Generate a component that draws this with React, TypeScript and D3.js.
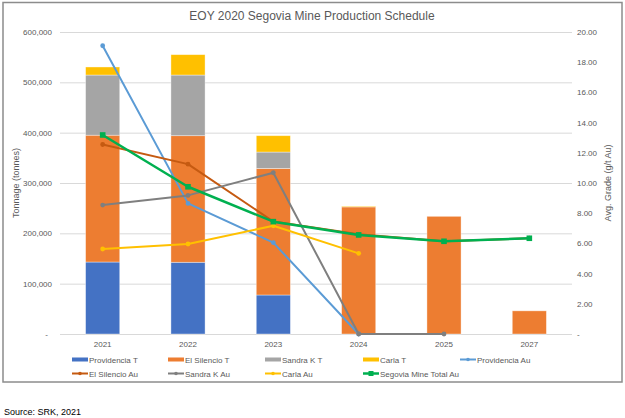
import { useEffect, useRef } from 'react';
import * as d3 from 'd3';

// ── Data ──

const YEARS = ['2021', '2022', '2023', '2024', '2025', '2027'];

const PROVIDENCIA_T = [143000, 142500, 77500, 0, 0, 0];
const EL_SILENCIO_T = [252000, 251500, 251500, 252500, 233800, 46000];
const SANDRA_K_T = [119500, 120500, 32500, 0, 0, 0];
const CARLA_T = [16000, 40500, 32500, 1500, 0, 0];

const PROVIDENCIA_AU = [19.09, 8.65, 6.05, 0, null, null];
const EL_SILENCIO_AU = [12.55, 11.25, 7.45, 6.6, 6.14, 6.34];
const SANDRA_K_AU = [8.54, 9.18, 10.68, 0, 0, null];
const CARLA_AU = [5.63, 5.96, 7.17, 5.34, null, null];
const TOTAL_AU = [13.18, 9.75, 7.44, 6.56, 6.14, 6.34];

const LEFT_TICKS = [0, 100000, 200000, 300000, 400000, 500000, 600000];
const RIGHT_TICKS = [0, 2, 4, 6, 8, 10, 12, 14, 16, 18, 20];

// ── Styling ──

const FONT = '"Liberation Sans", Arial, sans-serif';
const TEXT = '#595959';
const GRID = '#d9d9d9';

const W = 625;
const H = 418;
const M = { left: 60, right: 53, top: 32, bottom: 84 };

type BarSeries = { name: string; values: number[]; color: string };
type LineSeries = {
  name: string;
  values: (number | null)[];
  color: string;
  square?: boolean;
  width: number;
};

const BARS: BarSeries[] = [
  { name: 'Providencia T', values: PROVIDENCIA_T, color: '#4472c4' },
  { name: 'El Silencio T', values: EL_SILENCIO_T, color: '#ed7d31' },
  { name: 'Sandra K T', values: SANDRA_K_T, color: '#a5a5a5' },
  { name: 'Carla T', values: CARLA_T, color: '#ffc000' },
];

const LINES: LineSeries[] = [
  { name: 'Providencia Au', values: PROVIDENCIA_AU, color: '#5b9bd5', width: 2 },
  { name: 'El Silencio Au', values: EL_SILENCIO_AU, color: '#c55a11', width: 2 },
  { name: 'Sandra K Au', values: SANDRA_K_AU, color: '#7f7f7f', width: 2 },
  { name: 'Carla Au', values: CARLA_AU, color: '#ffc000', width: 2 },
  { name: 'Segovia Mine Total Au', values: TOTAL_AU, color: '#00b050', square: true, width: 2.5 },
];

export default function App() {
  const svgRef = useRef<SVGSVGElement>(null);

  useEffect(() => {
    const svgEl = svgRef.current;
    if (!svgEl) return;
    const svg = d3.select(svgEl);
    svg.selectAll('*').remove();

    const x = d3
      .scaleBand<string>()
      .domain(YEARS)
      .range([M.left, W - M.right])
      .padding(0);
    const yL = d3.scaleLinear().domain([0, 600000]).range([H - M.bottom, M.top]);
    const yR = d3.scaleLinear().domain([0, 20]).range([H - M.bottom, M.top]);
    const barW = x.bandwidth() * 0.4;
    const cx = (yr: string) => x(yr)! + x.bandwidth() / 2;
    const midY = (M.top + H - M.bottom) / 2;

    // background + frame
    svg
      .append('rect')
      .attr('x', 3)
      .attr('y', 2.5)
      .attr('width', W - 6)
      .attr('height', 379.5)
      .attr('fill', '#fff')
      .attr('stroke', '#8c8c8c')
      .attr('stroke-width', 1.5);

    // title
    svg
      .append('text')
      .attr('x', 312)
      .attr('y', 19.5)
      .attr('text-anchor', 'middle')
      .attr('font-family', FONT)
      .attr('font-size', 12)
      .attr('fill', TEXT)
      .text('EOY 2020 Segovia Mine Production Schedule');

    // gridlines
    svg
      .append('g')
      .selectAll('line')
      .data(LEFT_TICKS)
      .enter()
      .append('line')
      .attr('x1', M.left)
      .attr('x2', W - M.right)
      .attr('y1', (d) => yL(d) + 0.5)
      .attr('y2', (d) => yL(d) + 0.5)
      .attr('stroke', GRID)
      .attr('stroke-width', 1);

    // left ticks
    svg
      .append('g')
      .selectAll('text')
      .data(LEFT_TICKS)
      .enter()
      .append('text')
      .attr('x', (d) => (d === 0 ? 48 : 52))
      .attr('y', (d) => yL(d) + 3)
      .attr('text-anchor', 'end')
      .attr('font-family', FONT)
      .attr('font-size', 8)
      .attr('fill', TEXT)
      .text((d) => (d === 0 ? '-' : d3.format(',')(d)));

    // right ticks
    svg
      .append('g')
      .selectAll('text')
      .data(RIGHT_TICKS)
      .enter()
      .append('text')
      .attr('x', 577)
      .attr('y', (d) => yR(d) + 3)
      .attr('text-anchor', 'start')
      .attr('font-family', FONT)
      .attr('font-size', 8)
      .attr('fill', TEXT)
      .text((d) => (d === 0 ? '-' : d3.format('.2f')(d)));

    // axis titles
    svg
      .append('text')
      .attr('transform', `translate(19,${midY}) rotate(-90)`)
      .attr('text-anchor', 'middle')
      .attr('font-family', FONT)
      .attr('font-size', 9)
      .attr('fill', TEXT)
      .text('Tonnage (tonnes)');
    svg
      .append('text')
      .attr('transform', `translate(611,${midY}) rotate(-90)`)
      .attr('text-anchor', 'middle')
      .attr('font-family', FONT)
      .attr('font-size', 9)
      .attr('fill', TEXT)
      .text('Avg. Grade (g/t Au)');

    // category labels
    svg
      .append('g')
      .selectAll('text')
      .data(YEARS)
      .enter()
      .append('text')
      .attr('x', (d) => cx(d))
      .attr('y', 346.5)
      .attr('text-anchor', 'middle')
      .attr('font-family', FONT)
      .attr('font-size', 8)
      .attr('fill', TEXT)
      .text((d) => d);

    // stacked bars
    const rows = YEARS.map((yr, i) => {
      const r: Record<string, number | string> = { year: yr };
      BARS.forEach((b) => {
        r[b.name] = b.values[i];
      });
      return r;
    });
    const stack = d3.stack<Record<string, number | string>>().keys(BARS.map((b) => b.name));
    const stacked = stack(rows as any);
    stacked.forEach((layer, li) => {
      svg
        .append('g')
        .selectAll('rect')
        .data(layer.filter((d) => d[1] - d[0] > 0))
        .enter()
        .append('rect')
        .attr('x', (d) => cx(d.data.year as string) - barW / 2)
        .attr('y', (d) => yL(d[1]))
        .attr('width', barW)
        .attr('height', (d) => yL(d[0]) - yL(d[1]))
        .attr('fill', BARS[li].color)
        .attr('stroke', '#fff')
        .attr('stroke-opacity', 0.5)
        .attr('stroke-width', 0.75);
    });

    // lines
    LINES.forEach((s) => {
      const pts = YEARS.map((yr, i) => ({ yr, v: s.values[i] })).filter(
        (p) => p.v !== null,
      ) as { yr: string; v: number }[];
      const line = d3
        .line<{ yr: string; v: number }>()
        .x((p) => cx(p.yr))
        .y((p) => yR(p.v));
      const g = svg.append('g');
      g.append('path')
        .attr('d', line(pts))
        .attr('fill', 'none')
        .attr('stroke', s.color)
        .attr('stroke-width', s.width)
        .attr('stroke-linejoin', 'round');
      if (s.square) {
        g.selectAll('rect')
          .data(pts)
          .enter()
          .append('rect')
          .attr('x', (p) => cx(p.yr) - 2.8)
          .attr('y', (p) => yR(p.v) - 2.8)
          .attr('width', 5.6)
          .attr('height', 5.6)
          .attr('fill', s.color);
      } else {
        g.selectAll('circle')
          .data(pts)
          .enter()
          .append('circle')
          .attr('cx', (p) => cx(p.yr))
          .attr('cy', (p) => yR(p.v))
          .attr('r', 2.4)
          .attr('fill', s.color);
      }
    });

    // legend
    const colX = [72, 168, 265, 363, 460];
    const legend = svg.append('g').attr('font-family', FONT).attr('font-size', 8);
    const items = [
      ...BARS.map((b) => ({ name: b.name, color: b.color, kind: 'bar' as const })),
      ...LINES.map((l) => ({
        name: l.name,
        color: l.color,
        kind: l.square ? ('square' as const) : ('line' as const),
      })),
    ];
    items.forEach((it, i) => {
      const lx = colX[i % 5];
      const ly = i < 5 ? 359.5 : 373.5;
      if (it.kind === 'bar') {
        legend
          .append('rect')
          .attr('x', lx)
          .attr('y', ly - 2)
          .attr('width', 16)
          .attr('height', 4)
          .attr('fill', it.color);
      } else {
        legend
          .append('line')
          .attr('x1', lx)
          .attr('x2', lx + 16)
          .attr('y1', ly)
          .attr('y2', ly)
          .attr('stroke', it.color)
          .attr('stroke-width', it.kind === 'square' ? 2.5 : 2);
        if (it.kind === 'square') {
          legend
            .append('rect')
            .attr('x', lx + 5.5)
            .attr('y', ly - 2.5)
            .attr('width', 5)
            .attr('height', 5)
            .attr('fill', it.color);
        } else {
          legend
            .append('circle')
            .attr('cx', lx + 8)
            .attr('cy', ly)
            .attr('r', 1.8)
            .attr('fill', it.color);
        }
      }
      legend
        .append('text')
        .attr('x', lx + 17)
        .attr('y', ly + 3)
        .attr('fill', TEXT)
        .text(it.name);
    });

    // source note
    svg
      .append('text')
      .attr('x', 4)
      .attr('y', 415)
      .attr('font-family', FONT)
      .attr('font-size', 9)
      .attr('fill', '#000')
      .text('Source: SRK, 2021');
  }, []);

  return (
    <svg
      ref={svgRef}
      width={W}
      height={H}
      style={{ position: 'absolute', left: 0, top: 0, background: '#fff' }}
    />
  );
}
